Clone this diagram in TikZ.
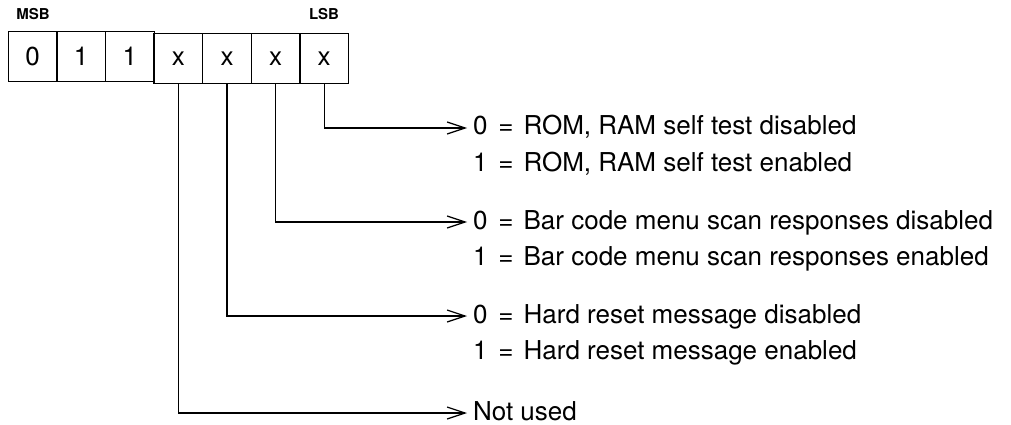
\documentclass[tikz,border=0pt]{standalone}
\usepackage{fontspec}
\setmainfont{TeX Gyre Heros}
\usetikzlibrary{matrix,arrows.meta}
\newcommand{\bitval}[2]{#1\hspace{11pt}=\hspace{10pt}#2}

\begin{document}
\begin{tikzpicture}[x=1pt,y=1pt,
	bitlabel/.style={anchor=west, inner xsep=6pt, inner ysep=0pt, outer sep=0pt,
		text height=18pt, text depth=4pt, font=\fontsize{26}{30}\selectfont},
	endlabel/.style={font=\fontsize{15}{17}\selectfont\bfseries, inner sep=0pt}]
	\useasboundingbox (0,0) rectangle (1011,-425);
	\matrix (b) [matrix of nodes, anchor=north west, inner sep=0pt, column sep=-1.2pt,
		nodes={draw, line width=1.2pt, minimum width=48.6pt, minimum height=50pt,
			inner sep=0pt, font=\fontsize{26}{30}\selectfont}] at (7.5,-30.5)
	{
		0 & 1 & 1 & x & x & x & x \\
	};
	\node[endlabel] (msb) at (33,-14.5) {MSB};
	\node[endlabel] (lsb) at (324,-14.5) {LSB};
	% what each bit means
	\node[bitlabel] (rom0) at (467,-128) {\bitval{0}{ROM, RAM self test disabled}};
	\node[bitlabel] (rom1) at (467,-164) {\bitval{1}{ROM, RAM self test enabled}};
	\node[bitlabel] (bar0) at (467,-222) {\bitval{0}{Bar code menu scan responses disabled}};
	\node[bitlabel] (bar1) at (467,-258) {\bitval{1}{Bar code menu scan responses enabled}};
	\node[bitlabel] (hard0) at (467,-316) {\bitval{0}{Hard reset message disabled}};
	\node[bitlabel] (hard1) at (467,-352) {\bitval{1}{Hard reset message enabled}};
	\node[bitlabel] (unused) at (467,-413) {Not used};
	\path[line width=1.2pt, -{Straight Barb[length=18pt,width=12pt]},
		to path={|- (\tikztotarget)}]
	(b-1-7.south) edge (rom0.west)
	(b-1-6.south) edge (bar0.west)
	(b-1-5.south) edge (hard0.west)
	(b-1-4.south) edge (unused.west);
\end{tikzpicture}
\end{document}
